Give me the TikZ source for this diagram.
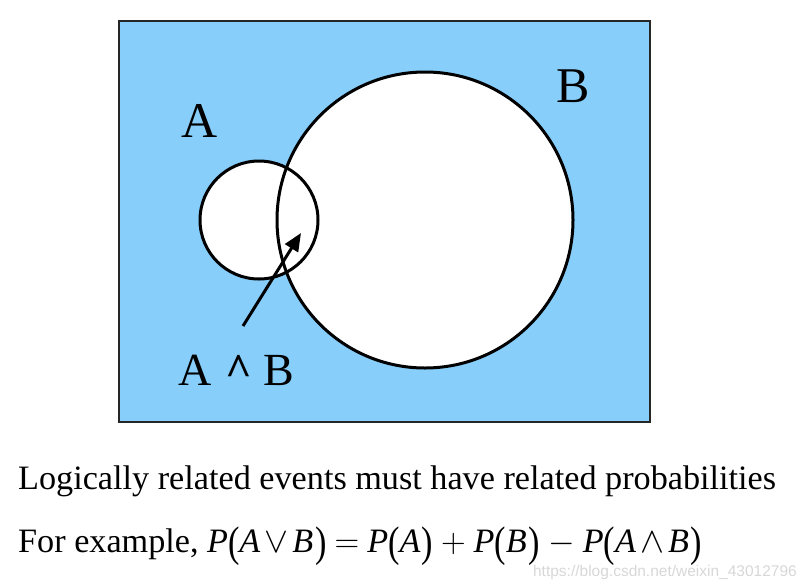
\RequirePackage{fix-cm}
\documentclass[tikz,border=0pt]{standalone}
\usepackage{graphicx}
\usepackage{fontspec}
\setmainfont{Liberation Serif}
\newfontfamily\wmfont{Liberation Sans}
\usetikzlibrary{arrows.meta}
\definecolor{skyfill}{RGB}{135,206,250}
\definecolor{wmgray}{RGB}{215,215,215}
\newcommand\mylp{\raisebox{-0.14em}{\scalebox{1}[1.25]{(}}}
\newcommand\myrp{\raisebox{-0.14em}{\scalebox{1}[1.25]{)}}}
\newcommand\myop[1]{\hspace{8pt}#1\hspace{8pt}}
\newcommand\smallop[1]{\hspace{4pt}\scalebox{1.05}{$#1$}\hspace{4pt}}
\tikzset{
  setcircle/.style={line width=3pt, draw=black},
  biglabel/.style={inner sep=0pt, anchor=base west, font=\fontsize{50}{50}\selectfont},
  midlabel/.style={inner sep=0pt, anchor=base west, font=\fontsize{46}{46}\selectfont},
  textline/.style={inner sep=0pt, anchor=base west, font=\fontsize{34.2}{36}\selectfont},
  pointer/.style={line width=3pt, -{Triangle[length=18pt,width=15pt]}}
}
\begin{document}
\begin{tikzpicture}[x=1pt,y=-1pt]
\useasboundingbox (0,0) rectangle (806,587);
\node[draw=black!85, line width=1.5pt, fill=skyfill, minimum width=531pt, minimum height=401pt, inner sep=0pt, anchor=north west] (universe) at (118,20) {};
\coordinate (cA) at (259,220);
\coordinate (cB) at (425,220);
\fill[white] (cA) circle[radius=59pt];
\fill[white] (cB) circle[radius=148pt];
\draw[setcircle] (cA) circle[radius=59pt];
\draw[setcircle] (cB) circle[radius=148pt];
\node[biglabel] (labA) at (181,137) {A};
\node[biglabel] (labB) at (556,102) {B};
\node[midlabel] (labAB) at (178,385) {A\hspace{14pt}\textbf{\textasciicircum}\hspace{11pt}B};
\coordinate (tail) at (243,326);
\coordinate (tip) at (301,233);
\draw[pointer] (tail) -- (tip);
\node[textline] (line1) at (18,489) {Logically related events must have related probabilities};
\node[textline] (line2) at (18,552) {For example, \textit{P}\mylp\textit{A}\smallop{\vee}\textit{B}\hspace{2pt}\myrp\myop{$=$}\textit{P}\mylp\textit{A}\hspace{1pt}\myrp\myop{$+$}\textit{P}\mylp\textit{B}\hspace{2pt}\myrp\myop{$-$}\textit{P}\mylp\textit{A}\smallop{\wedge}\textit{B}\hspace{2pt}\myrp};
\node[inner sep=0pt, anchor=base east, text=wmgray, font=\wmfont\fontsize{15.5}{16}\selectfont] (wm) at (797,576) {https://blog.csdn.net/weixin\_43012796};
\end{tikzpicture}
\end{document}
